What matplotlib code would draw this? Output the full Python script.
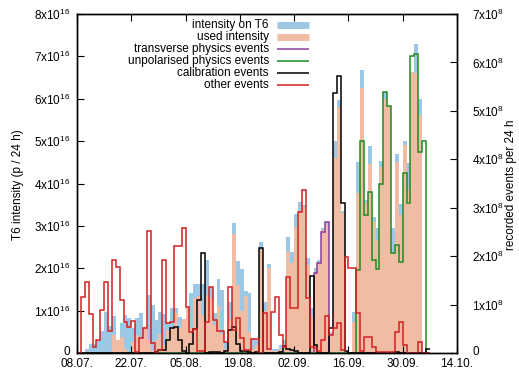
import numpy as np
import matplotlib
matplotlib.use('Agg')
import matplotlib.pyplot as plt
from matplotlib.lines import Line2D
from matplotlib.transforms import ScaledTranslation

# ---- data (one value per day, day 0 = 08.07.) ----
date_labels = ['08.07.', '22.07.', '05.08.', '19.08.', '02.09.', '16.09.', '30.09.', '14.10.']
tick_days = [0, 14, 28, 42, 56, 70, 84, 98]

# intensity on T6 [1e16 p / 24 h]
t6 = [0, 0, 0.09, 0.21, 0.21, 0.31, 0.52, 0.97, 0.64, 0.87,
      0.31, 0.71, 0.90, 0.83, 0.59, 0.83, 0.94, 0.61, 1.37, 1.13,
      0.78, 0.97, 0.92, 0.73, 1.06, 1.06, 0.85, 0.66, 0.63, 1.42,
      1.63, 1.63, 1.63, 2.19, 1.56, 0.94, 1.75, 1.49, 0.26, 1.20,
      3.07, 2.17, 1.98, 1.46, 1.42, 0.35, 0.30, 2.62, 1.20, 2.10,
      0.10, 0.10, 0.20, 0.30, 2.74, 2.38, 3.28, 3.56, 3.50, 2.24,
      1.06, 2.00, 2.20, 2.95, 3.09, 0.50, 5.00, 5.97, 3.35, 0,
      0, 0.97, 4.50, 6.67, 3.60, 4.88, 3.20, 2.94, 4.53, 6.16,
      5.83, 2.94, 4.69, 3.51, 5.00, 4.49, 6.63, 7.29, 6.00, 0, 0]

# used intensity [1e16 p / 24 h]
used = [0, 0, 0, 0, 0, 0, 0, 0, 0, 0.42,
        0.31, 0.38, 0.09, 0, 0.26, 0.42, 0.33, 0.61, 0.30, 0.05,
        0.30, 0.45, 0.20, 0.55, 0.60, 0.94, 0.60, 0.80, 1.08, 0.60,
        1.30, 1.35, 0.90, 1.37, 1.30, 0.65, 1.10, 0.45, 0.10, 0.80,
        2.80, 1.60, 1.00, 1.35, 0.50, 0.10, 0.20, 2.42, 1.00, 2.00,
        0.05, 0.05, 0.10, 0.20, 2.38, 2.12, 2.97, 3.33, 3.44, 2.08,
        0.85, 1.90, 2.15, 2.90, 3.02, 0.40, 4.60, 5.80, 3.30, 0,
        0, 0.74, 3.77, 6.26, 3.53, 4.46, 3.10, 2.67, 4.39, 6.00,
        5.83, 2.39, 4.51, 3.25, 4.92, 3.86, 6.63, 6.61, 5.61, 0, 0]

# recorded events per 24 h [1e8]
transverse = [0] * 61 + [1.65, 1.86, 2.50, 2.71] + [0] * 26

unpolarised = [0] * 72 + [1.71, 4.37, 2.84, 3.33, 1.92, 1.73, 3.49, 5.39,
                          5.11, 2.07, 2.23, 1.88, 3.72, 3.10, 6.14, 6.18, 4.16, 4.37] + [0]

calibration = [0, 0, 0, 0, 0, 0, 0, 0, 0, 0,
               0, 0, 0, 0, 0, 0, 0, 0, 0, 0,
               0.03, 0.06, 0.06, 0.27, 0.52, 0.53, 0.27, 0.04, 0, 0.19,
               0.50, 1.09, 2.07, 0, 0.02, 0.02, 0.02, 0, 0.05, 0.48,
               0.53, 0.19, 0.05, 0.05, 0.03, 0, 0.02, 2.16, 0, 0,
               0, 0, 0.02, 0.14, 0.08, 0.06, 0.05, 0, 0, 0,
               1.58, 0.17, 0, 0, 0, 0.52, 5.37, 5.73, 3.10, 0.05,
               0, 0, 0, 0, 0, 0, 0, 0, 0, 0,
               0, 0, 0.03, 0, 0, 0, 0, 0, 0, 0, 0.08]

other = [0, 1.16, 1.47, 0.81, 0.12, 0.27, 0.89, 1.47, 0.45, 1.92,
         1.78, 1.10, 0.64, 0.54, 0.66, 0.02, 0.31, 0.52, 2.52, 0.21,
         0, 0.06, 1.92, 0.62, 0.64, 2.20, 2.20, 2.58, 0.95, 0.43,
         0.50, 0.05, 0.05, 0.64, 1.36, 0.68, 0.45, 0.45, 0.23, 1.36,
         0.48, 0.72, 0.31, 0.06, 0.06, 0.29, 0.29, 0, 0.83, 0.08,
         0.85, 1.16, 0.37, 0.12, 1.57, 0.93, 0.93, 2.91, 3.37, 1.14,
         0.12, 0.10, 0.05, 0.27, 0.76, 0.37, 0.52, 0.62, 0.07, 1.98,
         1.76, 1.76, 0.83, 0.05, 0.34, 0.34, 0.12, 0.03, 0.03, 0.03,
         0.03, 0.03, 0.44, 0.65, 0.17, 0, 0, 0, 0.23, 0, 0]

labels = ['intensity on T6', 'used intensity', 'transverse physics events',
          'unpolarised physics events', 'calibration events', 'other events']

# ---- style ----
BLUE = '#9cc8e6'
SALMON = '#f0bca3'
C_TRANS = '#8a3d9a'
C_UNPOL = '#1e8c1e'
C_CAL = '#000000'
C_OTHER = '#d42020'

plt.rcParams['font.family'] = ['Liberation Sans', 'DejaVu Sans']
plt.rcParams['mathtext.fontset'] = 'custom'
plt.rcParams['mathtext.rm'] = 'Liberation Sans'
plt.rcParams['mathtext.it'] = 'Liberation Sans'
plt.rcParams['mathtext.default'] = 'regular'

W, H = 519, 370
fig = plt.figure(figsize=(W / 100, H / 100), dpi=100)
ax = fig.add_axes([77 / W, 1 - 353 / H, 380 / W, 339 / H])

days = np.arange(len(t6))
edges = np.arange(len(t6) + 1)

ax.bar(days, t6, width=1, align='edge', color=BLUE, linewidth=0)
ax.bar(days, used, width=1, align='edge', color=SALMON, linewidth=0)
ax.set_xlim(0, 98)
ax.set_ylim(0, 8)

ax2 = ax.twinx()
ax2.set_ylim(0, 7)
lw = 1.1
ax2.stairs(transverse, edges, baseline=None, color=C_TRANS, linewidth=lw)
ax2.stairs(unpolarised, edges, baseline=None, color=C_UNPOL, linewidth=lw)
ax2.stairs(calibration, edges, baseline=None, color=C_CAL, linewidth=lw)
ax2.stairs(other, edges, baseline=None, color=C_OTHER, linewidth=lw)

fs = 8.5
ax.set_xticks(tick_days)
ax.set_xticklabels(date_labels, fontsize=fs)
ax.set_yticks(range(9))
ax.set_yticklabels(['0'] + ['%dx10$^{16}$' % k for k in range(1, 9)], fontsize=fs)
ax2.set_yticks(range(8))
ax2.set_yticklabels(['0'] + ['%dx10$^{8}$' % k for k in range(1, 8)], fontsize=fs)

ax.tick_params(axis='x', direction='in', top=True, bottom=True, length=5, width=0.8, pad=3.5)
ax.tick_params(axis='y', direction='in', left=True, right=False, length=5, width=0.8, pad=5)
ax2.tick_params(axis='y', direction='in', left=False, right=True, length=5, width=0.8, pad=11)
for a in (ax, ax2):
    for s in a.spines.values():
        s.set_linewidth(1.0)

# lift the two "0" labels slightly so they clear the date labels
up = ScaledTranslation(0, 2.5 / 100, fig.dpi_scale_trans)
for lbl in (ax.get_yticklabels()[0], ax2.get_yticklabels()[0]):
    lbl.set_transform(lbl.get_transform() + up)

fig.text(18 / W, 1 - 185 / H, 'T6 intensity (p / 24 h)', rotation=90,
         ha='center', va='center', fontsize=fs)
fig.text(511 / W, 1 - 185 / H, 'recorded events per 24 h', rotation=90,
         ha='center', va='center', fontsize=fs)

# legend (gnuplot style: text right-aligned, sample to the right)
colors = [BLUE, SALMON, C_TRANS, C_UNPOL, C_CAL, C_OTHER]
widths = [5.0, 5.0, lw, lw, lw, lw]
for i, (lab, c, w) in enumerate(zip(labels, colors, widths)):
    yy = 1 - (25 + 12 * i) / H
    fig.text(269 / W, yy, lab, ha='right', va='center', fontsize=fs)
    fig.add_artist(Line2D([277 / W, 309 / W], [yy, yy], transform=fig.transFigure,
                          color=c, linewidth=w, solid_capstyle='butt'))

fig.savefig('out.png', dpi=100)
